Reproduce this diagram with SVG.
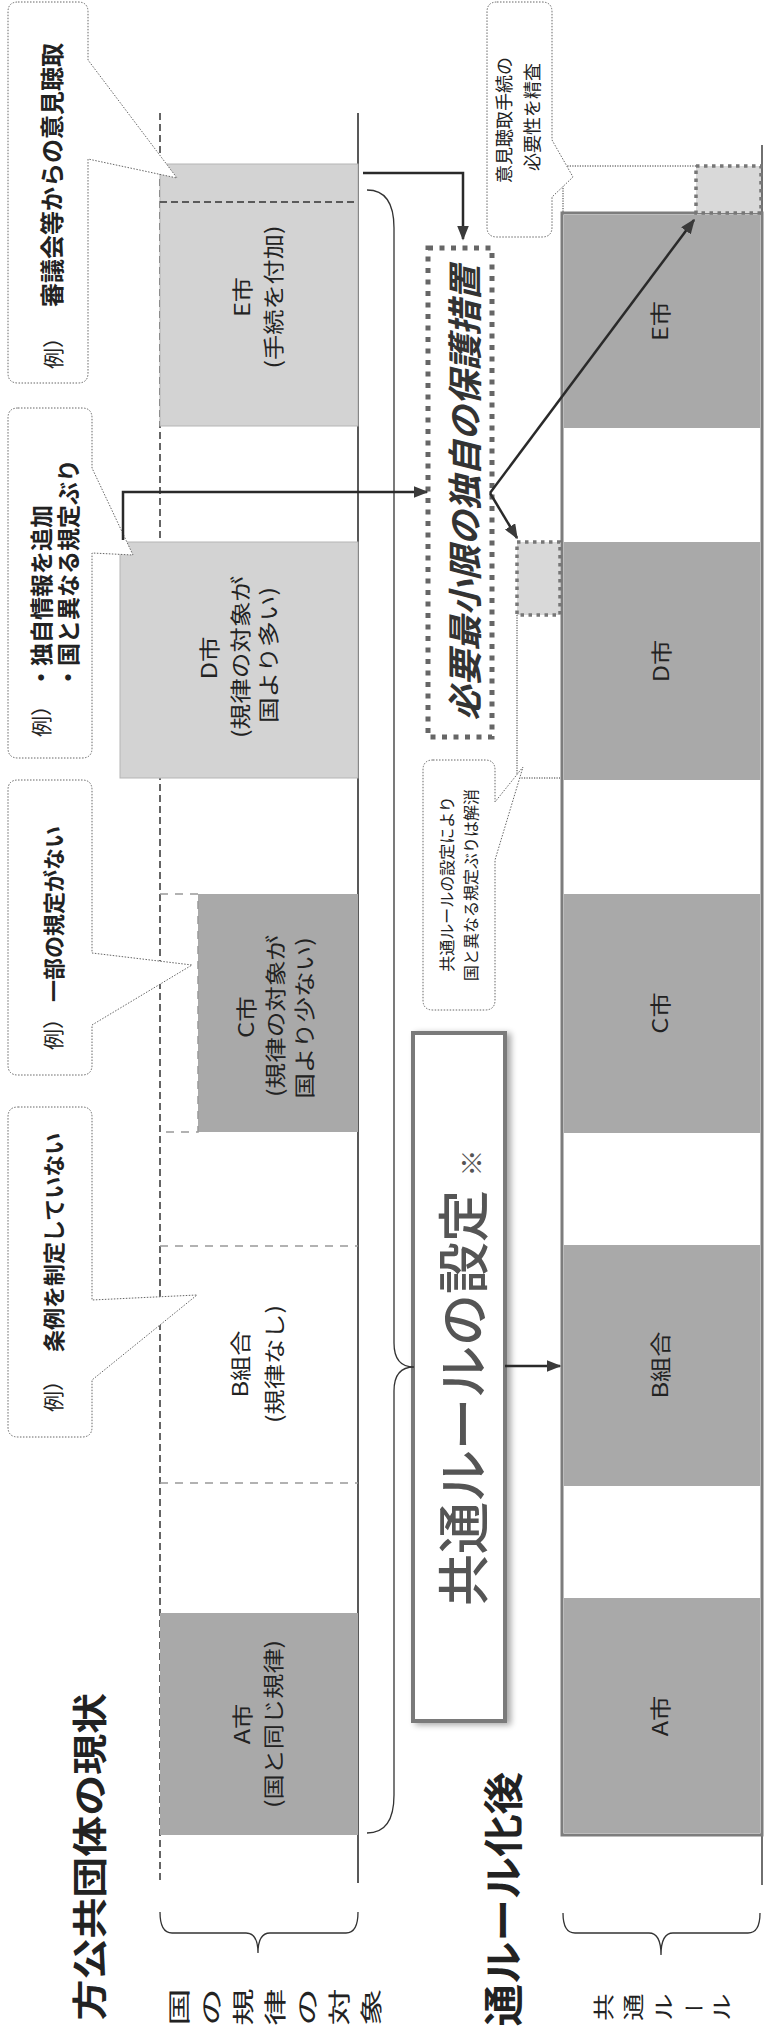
<svg xmlns="http://www.w3.org/2000/svg" width="766" height="2028" viewBox="0 0 766 2028">
<style>
.t{font-family:"Noto Sans CJK JP","Noto Sans CJK SC",sans-serif;text-anchor:middle;dominant-baseline:central;fill:#222}
.s{text-anchor:start}
.e{text-anchor:end}
.b{font-weight:700}
.lbl{font-size:21px}
.cal{fill:#fff;stroke:#666;stroke-width:1;stroke-dasharray:1.5 1.5}
.light{fill:#d3d3d3;stroke:#b5b5b5;stroke-width:1}
.dark{fill:#a9a9a9}
.gdash{fill:none;stroke:#999;stroke-width:1.5;stroke-dasharray:8 7}
.kdash{fill:none;stroke:#333;stroke-width:1.5;stroke-dasharray:7 4}
.dotk{fill:none;stroke:#333;stroke-width:1;stroke-dasharray:1.2 1.3}
.sq{fill:#d9d9d9;stroke:#777;stroke-width:3.5;stroke-dasharray:3.5 4.5}
.arrow{fill:none;stroke:#2a2a2a;stroke-width:2.5;marker-end:url(#ah)}
.brace{fill:none;stroke:#333;stroke-width:1.3}
</style>
<defs>
<marker id="ah" viewBox="0 0 10 10" refX="9" refY="5" markerWidth="15" markerHeight="12" markerUnits="userSpaceOnUse" orient="auto" preserveAspectRatio="none"><path d="M0,0 L10,5 L0,10 z" fill="#3a3a3a"/></marker>
<filter id="sh" x="-20%" y="-5%" width="140%" height="110%"><feGaussianBlur in="SourceAlpha" stdDeviation="3"/><feOffset dx="4" dy="2"/><feComponentTransfer><feFuncA type="linear" slope="0.35"/></feComponentTransfer><feMerge><feMergeNode/><feMergeNode in="SourceGraphic"/></feMerge></filter>
</defs>

<g id="titles">
<text class="t e b" font-size="35" transform="translate(88,1693) rotate(-90) scale(1.17,1)">方公共団体の現状</text>
<text class="t e b" font-size="40" transform="translate(501,1772) rotate(-90) scale(1.06,1)">通ルール化後</text>
</g>

<g id="current-frame">
<line x1="160" y1="113" x2="160" y2="1880" class="kdash"/>
<line x1="358" y1="113" x2="358" y2="1883" stroke="#222" stroke-width="1.5"/>
</g>

<g id="node-E-current">
<rect x="160" y="164" width="198" height="262" class="light"/>
<line x1="160" y1="202" x2="358" y2="202" class="kdash"/>
<text class="t lbl" transform="translate(241,297) rotate(-90) scale(1.2,1)">E市</text>
<text class="t lbl" transform="translate(272,297) rotate(-90) scale(1.2,1)">(手続を付加)</text>
</g>
<g id="node-D-current">
<rect x="120" y="542" width="238" height="236" class="light"/>
<text class="t lbl" transform="translate(208,658) rotate(-90) scale(1.22,1)">D市</text>
<text class="t lbl" transform="translate(239,657) rotate(-90) scale(1.22,1)">(規律の対象が</text>
<text class="t lbl" transform="translate(267,655) rotate(-90) scale(1.22,1)">国より多い)</text>
</g>
<g id="node-C-current">
<rect x="198" y="894" width="160" height="238" class="dark"/>
<path d="M160,894 H198 V1132 H160" class="gdash"/>
<text class="t lbl" transform="translate(245,1017) rotate(-90) scale(1.22,1)">C市</text>
<text class="t lbl" transform="translate(274,1016) rotate(-90) scale(1.22,1)">(規律の対象が</text>
<text class="t lbl" transform="translate(303,1018) rotate(-90) scale(1.22,1)">国より少ない)</text>
</g>
<g id="node-B-current">
<line x1="160" y1="1246" x2="358" y2="1246" class="gdash"/>
<line x1="160" y1="1483" x2="358" y2="1483" class="gdash"/>
<text class="t lbl" transform="translate(239,1364) rotate(-90) scale(1.2,1)">B組合</text>
<text class="t lbl" transform="translate(273,1364) rotate(-90) scale(1.2,1)">(規律なし)</text>
</g>
<g id="node-A-current">
<rect x="160" y="1613" width="198" height="222" class="dark"/>
<text class="t lbl" transform="translate(241,1724) rotate(-90) scale(1.2,1)">A市</text>
<text class="t lbl" transform="translate(272,1724) rotate(-90) scale(1.2,1)">(国と同じ規律)</text>
</g>

<g id="brace-current">
<path d="M160,1912 Q160,1933 172,1933 H246 Q258,1933 258,1953 Q258,1933 270,1933 H346 Q358,1933 358,1912" class="brace"/>
<g class="t" font-size="22">
<text transform="translate(177,2007) rotate(-90) scale(1.7,1)">国</text>
<text transform="translate(209,2007) rotate(-90) scale(1.7,1)">の</text>
<text transform="translate(241,2007) rotate(-90) scale(1.7,1)">規</text>
<text transform="translate(273,2007) rotate(-90) scale(1.7,1)">律</text>
<text transform="translate(305,2007) rotate(-90) scale(1.7,1)">の</text>
<text transform="translate(337,2007) rotate(-90) scale(1.7,1)">対</text>
<text transform="translate(369,2007) rotate(-90) scale(1.7,1)">象</text>
</g>
</g>

<g id="callout-1">
<path d="M18,2 H78 Q88,2 88,12 V60 L177,178 L88,159 V373 Q88,383 78,383 H18 Q8,383 8,373 V12 Q8,2 18,2 Z" class="cal"/>
<text class="t s" font-size="21" transform="translate(52,369) rotate(-90)">例）</text>
<text class="t s b" font-size="24" transform="translate(50,307) rotate(-90)">審議会等からの意見聴取</text>
</g>
<g id="callout-2">
<path d="M18,408 H82 Q92,408 92,418 V468 L133,555 L92,553 V748 Q92,758 82,758 H18 Q8,758 8,748 V418 Q8,408 18,408 Z" class="cal"/>
<text class="t s" font-size="21" transform="translate(40,737) rotate(-90)">例）</text>
<text class="t s b" font-size="23" transform="translate(40,689) rotate(-90)">・独自情報を追加</text>
<text class="t s b" font-size="23" transform="translate(67,689) rotate(-90)">・国と異なる規定ぶり</text>
</g>
<g id="callout-3">
<path d="M18,780 H82 Q92,780 92,790 V953 L192,965 L92,1025 V1065 Q92,1075 82,1075 H18 Q8,1075 8,1065 V790 Q8,780 18,780 Z" class="cal"/>
<text class="t s" font-size="21" transform="translate(52,1050) rotate(-90)">例）</text>
<text class="t s b" font-size="22" transform="translate(52,1002) rotate(-90)">一部の規定がない</text>
</g>
<g id="callout-4">
<path d="M18,1107 H82 Q92,1107 92,1117 V1300 L197,1295 L92,1380 V1427 Q92,1437 82,1437 H18 Q8,1437 8,1427 V1117 Q8,1107 18,1107 Z" class="cal"/>
<text class="t s" font-size="21" transform="translate(52,1412) rotate(-90)">例）</text>
<text class="t s b" font-size="22" transform="translate(52,1352) rotate(-90)">条例を制定していない</text>
</g>

<g id="node-common-rule">
<rect x="413" y="1033" width="92" height="688" fill="#fff" stroke="#7a7a7a" stroke-width="4" filter="url(#sh)"/>
<text class="t" font-size="52" style="fill:#555;font-weight:500" transform="translate(460,1398) rotate(-90)">共通ルールの設定</text>
<text class="t" font-size="27" style="fill:#555" transform="translate(470,1163) rotate(-90)">※</text>
</g>

<g id="node-protect">
<rect x="428" y="248" width="64" height="489" fill="#fff" stroke="#666" stroke-width="5" stroke-dasharray="5 6.5"/>
<text class="t b" font-size="35" font-style="italic" style="fill:#333" transform="translate(462,493) rotate(-90)">必要最小限の独自の保護措置</text>
</g>

<g id="lower-frame">
<line x1="762" y1="145" x2="762" y2="1885" stroke="#222" stroke-width="1.3"/>
<rect x="562" y="213" width="200" height="1622" fill="#fff" stroke="#7d7d7d" stroke-width="3"/>
</g>
<g id="node-E-common">
<rect x="564" y="215" width="196" height="213" class="dark"/>
<text class="t lbl" transform="translate(659,321) rotate(-90) scale(1.2,1)">E市</text>
</g>
<g id="node-D-common">
<rect x="564" y="542" width="196" height="238" class="dark"/>
<text class="t lbl" transform="translate(660,661) rotate(-90) scale(1.2,1)">D市</text>
</g>
<g id="node-C-common">
<rect x="564" y="894" width="196" height="239" class="dark"/>
<text class="t lbl" transform="translate(659,1013) rotate(-90) scale(1.2,1)">C市</text>
</g>
<g id="node-B-common">
<rect x="564" y="1245" width="196" height="241" class="dark"/>
<text class="t lbl" transform="translate(659,1365) rotate(-90) scale(1.2,1)">B組合</text>
</g>
<g id="node-A-common">
<rect x="564" y="1598" width="196" height="235" class="dark"/>
<text class="t lbl" transform="translate(659,1716) rotate(-90) scale(1.2,1)">A市</text>
</g>

<g id="ext-E">
<path d="M696,166 H563 V213" class="dotk"/>
<rect x="696" y="166" width="65" height="47" class="sq"/>
</g>
<g id="ext-D">
<path d="M517,615 V778 H560" class="dotk"/>
<rect x="517" y="542" width="43" height="73" class="sq"/>
</g>

<g id="callout-5">
<path d="M497,2 H542 Q552,2 552,12 V140 L573,177 L552,197 V227 Q552,237 542,237 H497 Q487,237 487,227 V12 Q487,2 497,2 Z" class="cal"/>
<text class="t" font-size="18" transform="translate(503,120) rotate(-90)">意見聴取手続の</text>
<text class="t" font-size="18" transform="translate(531,117) rotate(-90)">必要性を精査</text>
</g>
<g id="callout-6">
<path d="M433,760 H485 Q495,760 495,770 V802 L523,767 L495,860 V1000 Q495,1010 485,1010 H433 Q423,1010 423,1000 V770 Q423,760 433,760 Z" class="cal"/>
<text class="t" font-size="16" transform="translate(446,884) rotate(-90)">共通ルールの設定により</text>
<text class="t" font-size="16" transform="translate(470,885) rotate(-90)">国と異なる規定ぶりは解消</text>
</g>

<g id="brace-common">
<path d="M563,1913 Q563,1933 575,1933 H649 Q661,1933 661,1955 Q661,1933 673,1933 H748 Q760,1933 760,1913" class="brace"/>
<g class="t" font-size="21">
<text transform="translate(602,2007) rotate(-90) scale(1.3,1)">共</text>
<text transform="translate(632,2007) rotate(-90) scale(1.3,1)">通</text>
<text transform="translate(662,2007) rotate(-90) scale(1.3,1)">ル</text>
<text transform="translate(694,2007)">ー</text>
<text transform="translate(720,2007) rotate(-90) scale(1.3,1)">ル</text>
</g>
</g>

<g id="connectors">
<path d="M367,190 Q394,190 394,228 V1343 Q394,1367 414,1367 Q394,1367 394,1391 V1795 Q394,1833 367,1833" class="brace"/>
<path d="M363,173 H463 V239" class="arrow"/>
<path d="M123,540 V492 H427" class="arrow"/>
<path d="M490,493 L517,538" class="arrow"/>
<path d="M490,493 L694,220" class="arrow"/>
<path d="M505,1366 H560" class="arrow"/>
</g>
</svg>
